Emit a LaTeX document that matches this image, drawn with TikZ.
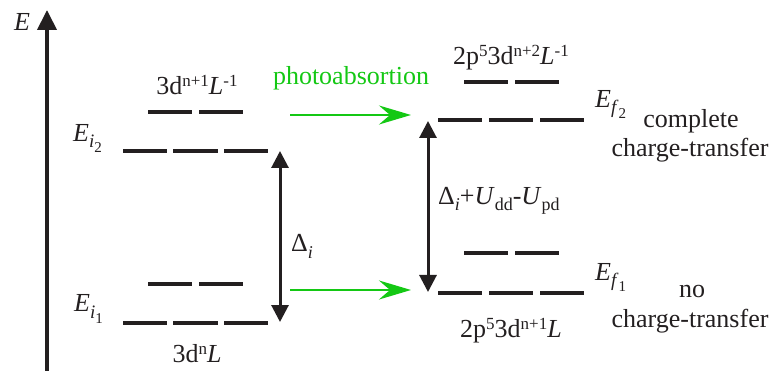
\documentclass[tikz,border=0pt]{standalone}
\usepackage{fontspec}
\setmainfont{Liberation Serif}
\usetikzlibrary{arrows.meta}
\definecolor{ink}{RGB}{35,31,32}
\definecolor{grn}{RGB}{20,200,20}
\newcommand\sps[1]{\raisebox{8pt}{\fontsize{17}{20}\selectfont #1}}
\newcommand\sbs[1]{\raisebox{-6pt}{\fontsize{18}{20}\selectfont #1}}
\newcommand\esub[2]{\textit{E}\raisebox{-6pt}{\fontsize{19}{20}\selectfont\textit{#1}\raisebox{-5pt}{\fontsize{15}{18}\selectfont #2}}}
\begin{document}
\begin{tikzpicture}[x=1pt,y=-1pt,
  lvl/.style={draw=ink,line width=4pt},
  lbl/.style={inner sep=0pt,text=ink,font=\fontsize{26}{30}\selectfont},
  gap/.style={draw=ink,line width=3pt,{Triangle[width=17pt,length=17pt]}-{Triangle[width=17pt,length=17pt]}},
  photo/.style={draw=grn,line width=2pt,-{Stealth[width=19pt,length=32pt,inset=11pt]}}]
\useasboundingbox (0,0) rectangle (776,371);
% energy axis
\coordinate (axb) at (47,371);
\coordinate (axt) at (47,10);
\draw[draw=ink,line width=4pt,-{Triangle[width=19pt,length=20pt]}] (axb) -- (axt);
\node[lbl,anchor=base] (E) at (22,31) {\textit{E}};
% left levels
\foreach \y in {151,323}{
  \draw[lvl] (123,\y) -- (167,\y) (173,\y) -- (218,\y) (224,\y) -- (268,\y);}
\foreach \y in {112,284}{
  \draw[lvl] (148,\y) -- (192,\y) (199,\y) -- (243,\y);}
% right levels
\foreach \y in {120,293}{
  \draw[lvl] (438,\y) -- (482,\y) (489,\y) -- (533,\y) (540,\y) -- (584,\y);}
\foreach \y in {82,253}{
  \draw[lvl] (464,\y) -- (508,\y) (515,\y) -- (559,\y);}
% labels left
\node[lbl,anchor=base] (iu) at (197,95) {3d\sps{n+1}\textit{L}\sps{-1}};
\node[lbl,anchor=base west] (Ei2) at (73,142) {\esub{i}{2}};
\node[lbl,anchor=base west] (Ei1) at (74,312) {\esub{i}{1}};
\node[lbl,anchor=base] (il) at (197,362) {3d\sps{n}\textit{L}};
% left gap arrow
\coordinate (lt) at (280,151);
\coordinate (lb) at (280,322);
\draw[gap] (lt) -- (lb);
\node[lbl,anchor=base west] (Di) at (291,252) {Δ\sbs{\textit{i}}};
% photoabsorption
\node[lbl,anchor=base,text=grn] (ph) at (351,85) {photoabsortion};
\coordinate (g1a) at (290,115);
\coordinate (g1b) at (411,115);
\coordinate (g2a) at (290,290);
\coordinate (g2b) at (411,290);
\draw[photo] (g1a) -- (g1b);
\draw[photo] (g2a) -- (g2b);
% right labels
\node[lbl,anchor=base] (fu) at (511,65) {2p\sps{5}3d\sps{n+2}\textit{L}\sps{-1}};
\node[lbl,anchor=base west] (Ef2) at (595,108) {\esub{f}{2}};
\node[lbl,anchor=base west] (Ef1) at (595,280) {\esub{f}{1}};
\node[lbl,anchor=base] (fl) at (511,337) {2p\sps{5}3d\sps{n+1}\textit{L}};
\node[lbl,anchor=base] (c1) at (691,128) {complete};
\node[lbl,anchor=base] (c2) at (690,157) {charge-transfer};
\node[lbl,anchor=base] (n1) at (692,298) {no};
\node[lbl,anchor=base] (n2) at (690,327) {charge-transfer};
% right gap arrow
\coordinate (rt) at (428,121);
\coordinate (rb) at (428,292);
\draw[gap] (rt) -- (rb);
\node[lbl,anchor=base west] (Df) at (438,205) {Δ\sbs{\textit{i}}+\textit{U}\sbs{dd}-\textit{U}\sbs{pd}};
\end{tikzpicture}
\end{document}
